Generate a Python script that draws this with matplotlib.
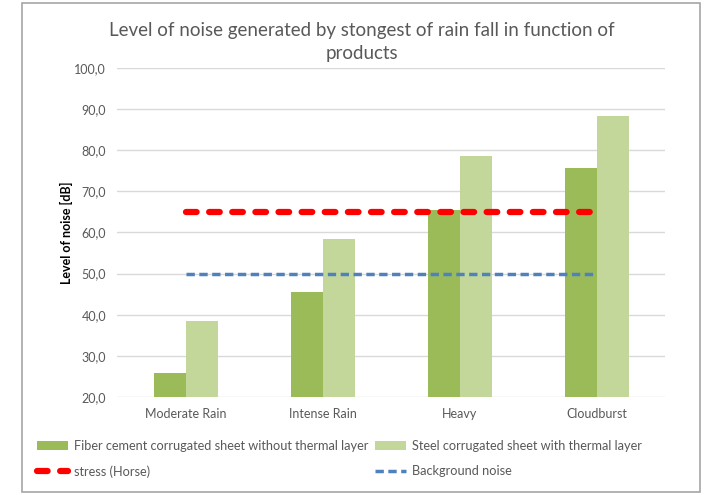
import numpy as np
import matplotlib
matplotlib.use("Agg")
import matplotlib.pyplot as plt
from matplotlib.patches import Rectangle

plt.rcParams['font.family'] = ['Lato', 'DejaVu Sans']

categories = ["Moderate Rain", "Intense Rain", "Heavy", "Cloudburst"]
fiber_cement = [25.8, 45.5, 65.5, 75.6]
steel_sheet = [38.5, 58.4, 78.5, 88.2]
stress_horse = [65.0, 65.0, 65.0, 65.0]
background_noise = [50.0, 50.0, 50.0, 50.0]
y_ticks = [20, 30, 40, 50, 60, 70, 80, 90, 100]

gray = "#595959"

fig = plt.figure(figsize=(7.1, 4.95), dpi=100)
ax = fig.add_axes([0.165, 0.198, 0.772, 0.665])

x = np.arange(len(categories))
w = 0.233
b1 = ax.bar(x - w / 2, fiber_cement, width=w, color="#9BBB59", zorder=2)
b2 = ax.bar(x + w / 2, steel_sheet, width=w, color="#C4D79B", zorder=2)
l1, = ax.plot(x, stress_horse, color="#FF0000", lw=4.5, dashes=(1.7, 2.0),
              dash_capstyle="round", zorder=3)
l2, = ax.plot(x, background_noise, color="#4F81BD", lw=2.5, dashes=(2.4, 1.3),
              zorder=3)

ax.set_xlim(-0.5, len(categories) - 0.5)
ax.set_ylim(20, 100)
ax.set_yticks(y_ticks)
ax.set_yticklabels([f"{v:.1f}".replace(".", ",") for v in y_ticks])
ax.set_xticks(x)
ax.set_xticklabels(categories)
ax.tick_params(axis="both", length=0, colors=gray, labelsize=9, pad=8)
ax.grid(axis="y", color="#D9D9D9", lw=1, zorder=0)
for s in ax.spines.values():
    s.set_visible(False)

ax.set_ylabel("Level of noise [dB]", fontsize=9, fontweight="bold", color="black", labelpad=1)

fig.text(0.51, 0.915, "Level of noise generated by stongest of rain fall in function of\nproducts",
         ha="center", va="center", fontsize=13.5, color=gray, linespacing=1.45)

# column-major fill: col 1 = fiber, stress ; col 2 = steel, background
leg = fig.legend([b1, l1, b2, l2],
                 ["Fiber cement corrugated sheet without thermal layer", "stress (Horse)",
                  "Steel corrugated sheet with thermal layer", "Background noise"],
                 ncol=2, loc="upper left", bbox_to_anchor=(0.04, 0.13),
                 frameon=False, fontsize=9.2, labelcolor=gray,
                 handlelength=2.4, handletextpad=0.5, columnspacing=0.5,
                 labelspacing=1.05, borderpad=0.2)

fig.patches.append(Rectangle((0.031, 0.006), 0.955, 0.988, transform=fig.transFigure,
                             fill=False, edgecolor="#A6A6A6", lw=1.2))

fig.savefig("out.png", dpi=100)
